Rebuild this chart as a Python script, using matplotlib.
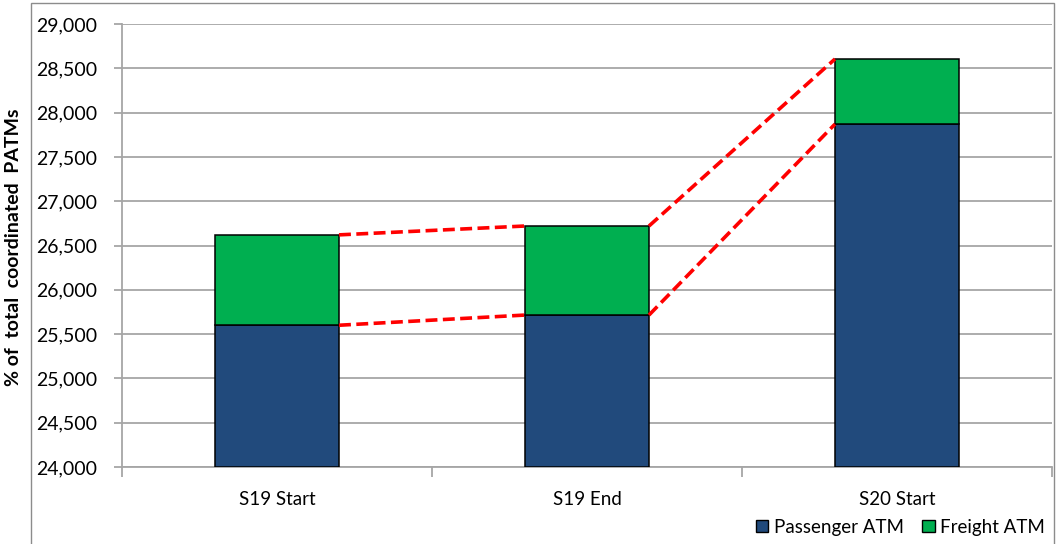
import matplotlib
matplotlib.use("Agg")
import matplotlib.pyplot as plt
from matplotlib.patches import Patch, Rectangle
from matplotlib.ticker import FuncFormatter, FixedLocator

categories = ["S19 Start", "S19 End", "S20 Start"]
passenger = [25600, 25715, 27870]
freight = [1020, 1005, 735]
yticks = [24000, 24500, 25000, 25500, 26000, 26500, 27000, 27500, 28000, 28500, 29000]

plt.rcParams['font.family'] = ['Lato', 'DejaVu Sans']

W, H = 1056, 544
fig = plt.figure(figsize=(W / 100, H / 100), dpi=100)
ax = fig.add_axes([122 / W, (H - 467) / H, (1052 - 122) / W, (467 - 24) / H])

grey = '#A6A6A6'
x = list(range(len(categories)))
bw = 0.4
ax.bar(x, [p - 24000 for p in passenger], bottom=24000, width=bw, color='#214A7C',
       edgecolor='black', linewidth=1.1, zorder=3, label='Passenger ATM')
ax.bar(x, freight, bottom=passenger, width=bw, color='#00AF50',
       edgecolor='black', linewidth=1.1, zorder=3, label='Freight ATM')

totals = [p + f for p, f in zip(passenger, freight)]
for i in range(len(categories) - 1):
    for series in (passenger, totals):
        ax.plot([i + bw / 2, i + 1 - bw / 2], [series[i], series[i + 1]],
                color='#FF0000', lw=2.6, dashes=(3.3, 1.5), zorder=4,
                solid_capstyle='butt', dash_capstyle='butt')

ax.set_xlim(-0.5, 2.5)
ax.set_ylim(24000, 29000)
ax.set_yticks(yticks)
ax.yaxis.set_major_formatter(FuncFormatter(lambda v, p: f"{int(v):,}"))
ax.grid(axis='y', color=grey, lw=1.3, zorder=0)
ax.set_axisbelow(True)

ax.set_xticks(x)
ax.set_xticklabels(categories, fontsize=13.5)
ax.xaxis.set_minor_locator(FixedLocator([-0.5, 0.5, 1.5, 2.5]))
ax.tick_params(axis='x', which='major', length=0, pad=17)
ax.tick_params(axis='x', which='minor', length=7, color=grey, width=1.3, direction='out')
ax.tick_params(axis='y', length=6, color=grey, width=1.3, labelsize=14, pad=12)

for s in ['top', 'right']:
    ax.spines[s].set_visible(False)
for s in ['left', 'bottom']:
    ax.spines[s].set_color(grey)
    ax.spines[s].set_linewidth(1.3)

fig.text(14 / W, 1 - 247 / H, "% of  total  coordinated  PATMs", rotation=90,
         ha='center', va='center', fontsize=14, fontweight='bold')

# chart border
fig.patches.append(Rectangle((31 / W, -0.02), (1054 - 31) / W, (H - 3) / H + 0.02,
                             transform=fig.transFigure, fill=False,
                             edgecolor='#8C8C8C', lw=1.0))

handles = [Patch(facecolor='#214A7C', edgecolor='black', lw=1.0, label='Passenger ATM'),
           Patch(facecolor='#00AF50', edgecolor='black', lw=1.0, label='Freight ATM')]
fig.legend(handles=handles, loc='center right', bbox_to_anchor=(1045 / W, 1 - 527 / H),
           ncol=2, frameon=False, fontsize=13.5, handlelength=0.65, handleheight=0.65,
           handletextpad=0.3, columnspacing=1.0, borderaxespad=0, borderpad=0)

fig.savefig('out.png', dpi=100)
